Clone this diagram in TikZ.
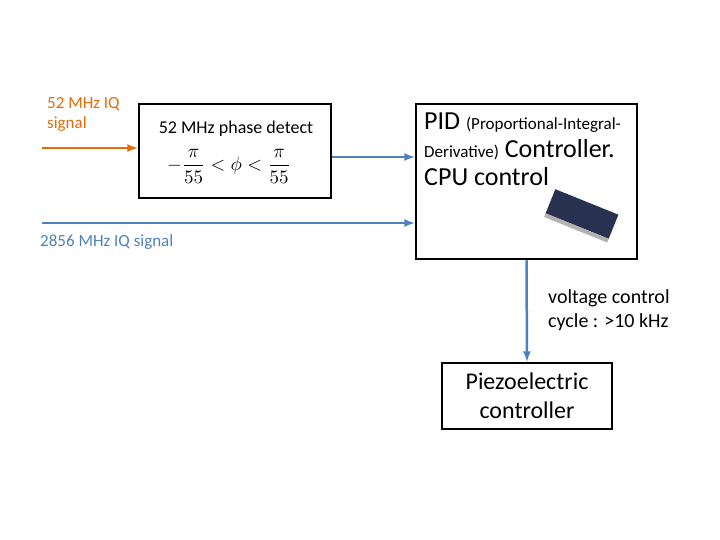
\documentclass[tikz,border=0pt]{standalone}
\usepackage{fontspec}
\setmainfont{Carlito}
\usepackage{amsmath}
\usetikzlibrary{positioning}
\definecolor{arrowblue}{RGB}{79,129,189}
\definecolor{arroworange}{RGB}{228,108,10}
\definecolor{board}{RGB}{40,50,80}
\tikzset{
  blockbox/.style={draw=black,line width=2.5pt,inner sep=0pt},
  flow/.style={-latex,line width=2.5pt,arrowblue},
}
\begin{document}
\begin{tikzpicture}[x=1pt,y=-1pt]
	\useasboundingbox (0,0) rectangle (720,540);

	\node[blockbox,minimum width=192pt,minimum height=94pt] (detect) at (235,151) {};
	\node[blockbox,minimum width=221pt,minimum height=155pt] (pid) at (526.5,181.5) {};
	\node[blockbox,minimum width=170pt,minimum height=66pt] (piezo) at (527,396)
		{\parbox{160pt}{\centering\fontsize{24}{29}\selectfont Piezoelectric\\controller}};

	\node[anchor=north west,arroworange,font=\fontsize{17}{20}\selectfont,align=left,inner sep=1pt] (iqlabel) at (46,96) {52 MHz IQ\\signal};
	\node[font=\fontsize{18}{20}\selectfont] (detlabel) at (236,129) {52 MHz phase detect};
	\node[scale=1.9] (phase) at (229,166) {$-\dfrac{\pi}{55}<\phi<\dfrac{\pi}{55}$};
	\node[anchor=north west,font=\fontsize{26}{28}\selectfont,align=left,inner sep=1pt] (pidlabel) at (423,112)
		{PID {\fontsize{17}{18}\selectfont (Proportional-Integral-}\\{\fontsize{17}{18}\selectfont Derivative)} Controller.\\CPU control};
	\node[anchor=west,arrowblue,font=\fontsize{17}{20}\selectfont,inner sep=1pt] (rflabel) at (39,242) {2856 MHz IQ signal};
	\node[anchor=north west,font=\fontsize{20}{24}\selectfont,align=left,inner sep=1pt] (vlabel) at (547,288) {voltage control\\cycle : >10 kHz};

	% board picture
	\fill[board,rotate around={-22:(582,214)}] (548,201) rectangle (616,227);
	\fill[gray!60,rotate around={-22:(582,214)}] (548,227) rectangle (616,231);

	\coordinate (iqin) at (42,148);
	\coordinate (rfin) at (42,223);
	\draw[-latex,line width=2.5pt,arroworange] (iqin) -- (iqin -| detect.west);
	\draw[flow] (detect.east |- 0,157) -- (pid.west |- 0,157);
	\draw[flow] (rfin) -- (rfin -| pid.west);
	\draw[flow] (pid.south) -- (piezo.north);
\end{tikzpicture}
\end{document}
